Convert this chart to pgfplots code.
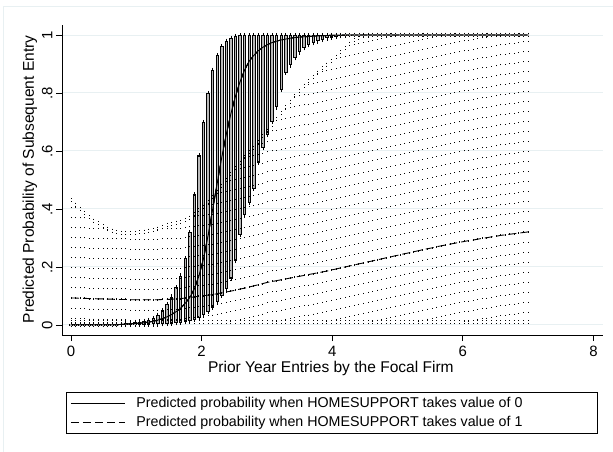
\documentclass[border=0pt]{standalone}
\usepackage{fontspec}
\setmainfont{Liberation Sans}
\usepackage{pgfplots}
\usepackage{pgfplotstable}
\pgfplotsset{compat=1.18}
\definecolor{gridc}{RGB}{232,240,242}

\pgfplotstableread{
x m0 lo0 hi0 m1 lo1 hi1
0.00 0.001 0.000 0.002 0.093 0.012 0.430
0.07 0.001 0.000 0.002 0.093 0.012 0.415
0.14 0.001 0.000 0.002 0.092 0.012 0.400
0.21 0.001 0.000 0.002 0.092 0.012 0.385
0.28 0.001 0.000 0.002 0.091 0.012 0.372
0.35 0.001 0.000 0.002 0.091 0.012 0.360
0.42 0.001 0.000 0.002 0.090 0.012 0.350
0.49 0.001 0.000 0.002 0.090 0.012 0.340
0.56 0.001 0.000 0.002 0.089 0.012 0.332
0.63 0.001 0.000 0.002 0.089 0.012 0.325
0.70 0.001 0.000 0.003 0.088 0.012 0.320
0.77 0.002 0.000 0.004 0.088 0.012 0.318
0.84 0.003 0.000 0.006 0.088 0.012 0.317
0.91 0.004 0.000 0.008 0.087 0.012 0.317
0.98 0.005 0.000 0.010 0.087 0.012 0.318
1.05 0.006 0.000 0.012 0.087 0.012 0.320
1.12 0.008 0.001 0.014 0.087 0.012 0.322
1.19 0.010 0.001 0.017 0.087 0.012 0.325
1.26 0.013 0.002 0.024 0.087 0.012 0.328
1.33 0.017 0.002 0.035 0.087 0.012 0.332
1.40 0.022 0.003 0.050 0.088 0.012 0.338
1.47 0.028 0.004 0.072 0.088 0.012 0.345
1.54 0.036 0.005 0.098 0.089 0.012 0.348
1.61 0.046 0.006 0.130 0.090 0.012 0.352
1.68 0.058 0.008 0.170 0.091 0.012 0.356
1.75 0.075 0.010 0.230 0.093 0.012 0.362
1.82 0.095 0.013 0.320 0.095 0.012 0.370
1.89 0.125 0.018 0.450 0.097 0.012 0.382
1.96 0.170 0.025 0.585 0.099 0.012 0.395
2.03 0.230 0.033 0.700 0.101 0.012 0.408
2.10 0.310 0.045 0.800 0.103 0.012 0.425
2.17 0.400 0.060 0.880 0.105 0.012 0.442
2.24 0.490 0.080 0.930 0.108 0.012 0.460
2.31 0.580 0.100 0.962 0.111 0.012 0.480
2.38 0.660 0.125 0.980 0.114 0.012 0.500
2.45 0.730 0.160 0.990 0.117 0.012 0.520
2.52 0.790 0.220 0.996 0.120 0.012 0.540
2.59 0.840 0.310 0.999 0.124 0.012 0.560
2.66 0.880 0.380 1.000 0.127 0.012 0.578
2.73 0.910 0.420 1.000 0.131 0.012 0.595
2.80 0.930 0.470 1.000 0.135 0.012 0.612
2.87 0.946 0.560 1.000 0.139 0.012 0.630
2.94 0.958 0.610 1.000 0.143 0.012 0.650
3.01 0.967 0.655 1.000 0.147 0.012 0.670
3.08 0.974 0.700 1.000 0.150 0.012 0.690
3.15 0.979 0.750 1.000 0.153 0.012 0.710
3.22 0.983 0.810 1.000 0.156 0.012 0.730
3.29 0.986 0.870 1.000 0.159 0.012 0.750
3.36 0.989 0.895 1.000 0.162 0.012 0.770
3.43 0.991 0.920 1.000 0.165 0.012 0.790
3.50 0.993 0.940 1.000 0.168 0.012 0.808
3.57 0.994 0.955 1.000 0.171 0.012 0.825
3.64 0.995 0.965 1.000 0.174 0.012 0.840
3.71 0.996 0.972 1.000 0.177 0.012 0.855
3.78 0.997 0.978 1.000 0.180 0.012 0.870
3.85 0.998 0.983 1.000 0.183 0.012 0.885
3.92 0.998 0.988 1.000 0.186 0.012 0.898
3.99 0.999 0.991 1.000 0.190 0.012 0.910
4.06 0.999 0.994 1.000 0.193 0.012 0.925
4.13 0.999 0.996 1.000 0.197 0.012 0.940
4.20 1.000 0.998 1.000 0.200 0.012 0.955
4.27 1.000 0.999 1.000 0.204 0.012 0.970
4.34 1.000 1.000 1.000 0.207 0.012 0.982
4.41 1.000 1.000 1.000 0.211 0.012 0.990
4.48 1.000 1.000 1.000 0.214 0.012 0.995
4.55 1.000 1.000 1.000 0.218 0.012 0.998
4.62 1.000 1.000 1.000 0.221 0.012 1.000
4.69 1.000 1.000 1.000 0.225 0.012 1.000
4.76 1.000 1.000 1.000 0.228 0.012 1.000
4.83 1.000 1.000 1.000 0.232 0.012 1.000
4.90 1.000 1.000 1.000 0.235 0.012 1.000
4.97 1.000 1.000 1.000 0.239 0.012 1.000
5.04 1.000 1.000 1.000 0.242 0.012 1.000
5.11 1.000 1.000 1.000 0.246 0.012 1.000
5.18 1.000 1.000 1.000 0.249 0.012 1.000
5.25 1.000 1.000 1.000 0.253 0.012 1.000
5.32 1.000 1.000 1.000 0.256 0.012 1.000
5.39 1.000 1.000 1.000 0.260 0.012 1.000
5.46 1.000 1.000 1.000 0.263 0.012 1.000
5.53 1.000 1.000 1.000 0.266 0.012 1.000
5.60 1.000 1.000 1.000 0.270 0.012 1.000
5.67 1.000 1.000 1.000 0.273 0.012 1.000
5.74 1.000 1.000 1.000 0.276 0.012 1.000
5.81 1.000 1.000 1.000 0.279 0.012 1.000
5.88 1.000 1.000 1.000 0.282 0.012 1.000
5.95 1.000 1.000 1.000 0.285 0.012 1.000
6.02 1.000 1.000 1.000 0.288 0.012 1.000
6.09 1.000 1.000 1.000 0.291 0.012 1.000
6.16 1.000 1.000 1.000 0.293 0.012 1.000
6.23 1.000 1.000 1.000 0.296 0.012 1.000
6.30 1.000 1.000 1.000 0.299 0.012 1.000
6.37 1.000 1.000 1.000 0.301 0.012 1.000
6.44 1.000 1.000 1.000 0.304 0.012 1.000
6.51 1.000 1.000 1.000 0.306 0.012 1.000
6.58 1.000 1.000 1.000 0.309 0.012 1.000
6.65 1.000 1.000 1.000 0.311 0.012 1.000
6.72 1.000 1.000 1.000 0.313 0.012 1.000
6.79 1.000 1.000 1.000 0.315 0.012 1.000
6.86 1.000 1.000 1.000 0.317 0.012 1.000
6.93 1.000 1.000 1.000 0.319 0.012 1.000
7.00 1.000 1.000 1.000 0.321 0.012 1.000
}\datatable

\begin{document}
\begin{tikzpicture}
\useasboundingbox (0,0) rectangle (613bp,452bp);
\draw[gridc, line width=1bp] (3bp,0) -- (3bp,445bp) -- (613bp,445bp);
\begin{axis}[
  at={(62bp,117bp)}, anchor=south west,
  scale only axis, width=541bp, height=310bp,
  xmin=-0.138, xmax=8.147, ymin=-0.0345, ymax=1.0345,
  axis x line*=bottom, axis y line*=left,
  axis line style={line width=0.9bp, black, -},
  xtick={0,2,4,6,8},
  ytick={0,0.2,0.4,0.6,0.8,1}, yticklabels={0,.2,.4,.6,.8,1},
  ymajorgrids, grid style={color=gridc, line width=1bp},
  tick align=outside, major tick length=6bp,
  tick style={line width=0.9bp, black},
  /pgf/number format/assume math mode=true,
  xticklabel style={font=\fontsize{15}{17}\selectfont, yshift=-2bp},
  yticklabel style={rotate=90, anchor=south, font=\fontsize{15}{17}\selectfont},
  every axis x label/.style={at={(axis description cs:0.497,-0.1194)}, anchor=base, font=\fontsize{15.6}{18}\selectfont},
  every axis y label/.style={at={(axis description cs:-0.0518,0.5016)}, rotate=90, anchor=base, font=\fontsize{15.6}{18}\selectfont},
  xlabel={Prior Year Entries by the Focal Firm},
  ylabel={Predicted Probability of Subsequent Entry},
  legend style={at={(axis description cs:0.0074,-0.184)}, anchor=north west,
    draw=black, line width=0.9bp, fill=white,
    font=\fontsize{14.3}{16}\selectfont,
    inner xsep=4bp, inner ysep=3bp, row sep=3bp,
    /tikz/every odd column/.append style={column sep=9bp}},
  legend cell align=left,
]
% CI of HOMESUPPORT = 0: thick black capped spikes
\addplot[black, line width=0.9bp, mark=none, forget plot,
  error bars/.cd, y dir=both, y explicit,
  error bar style={line width=3.4bp, solid},
  error mark options={line width=0.9bp, mark size=2.2bp, solid}]
  table[x=x, y=m0, y error plus expr={\thisrow{hi0}-\thisrow{m0}}, y error minus expr={\thisrow{m0}-\thisrow{lo0}}] {\datatable};
% grey interior of the spikes
\addplot[black, line width=0.9bp, mark=none, forget plot,
  error bars/.cd, y dir=both, y explicit, error mark=none,
  error bar style={line width=1.4bp, solid, color=gray!55}]
  table[x=x, y=m0, y error plus expr={\thisrow{hi0}-\thisrow{m0}-0.004}, y error minus expr={\thisrow{m0}-\thisrow{lo0}-0.004}] {\datatable};
% mean line HOMESUPPORT = 0
\addplot[black, line width=0.9bp, mark=none,
  legend image code/.code={\draw[black, line width=0.9bp] (0bp,0bp) -- (54bp,0bp);}]
  table[x=x, y=m0] {\datatable};
\addlegendentry{\makebox[455bp][l]{Predicted probability when HOMESUPPORT takes value of 0}}
% HOMESUPPORT = 1: dashed mean with dotted capped spikes
\addplot[black, line width=0.9bp, mark=none, dash pattern=on 8bp off 4bp,
  legend image code/.code={\draw[black, line width=0.9bp, dash pattern=on 8bp off 4bp] (0bp,0bp) -- (54bp,0bp);},
  error bars/.cd, y dir=both, y explicit,
  error bar style={line width=1bp, dash pattern=on 1bp off 9bp},
  error mark options={line width=1bp, mark size=2bp, dash pattern=on 1bp off 2bp}]
  table[x=x, y=m1, y error plus expr={\thisrow{hi1}-\thisrow{m1}}, y error minus expr={\thisrow{m1}-\thisrow{lo1}}] {\datatable};
\addlegendentry{\makebox[455bp][l]{Predicted probability when HOMESUPPORT takes value of 1}}
\end{axis}
\end{tikzpicture}
\end{document}
